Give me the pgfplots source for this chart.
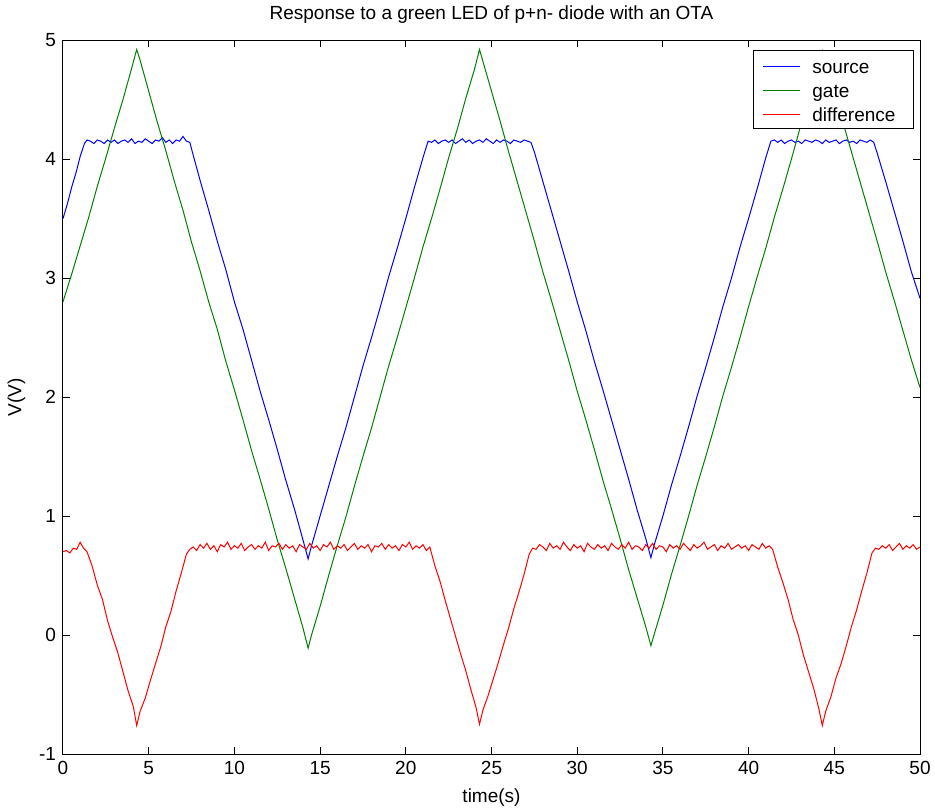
\documentclass[border=0pt]{standalone}
\usepackage{fontspec}
\setmainfont{Liberation Sans}
\usepackage{pgfplots}
\pgfplotsset{compat=1.18}

\definecolor{mgreen}{rgb}{0,0.5,0}

\begin{document}
\begin{tikzpicture}
\useasboundingbox (-31.5pt,-28pt) rectangle (436pt,377pt);
\begin{axis}[
    at={(0pt,0pt)}, anchor=south west,
    scale only axis,
    width=428.5pt, height=357pt,
    xmin=0, xmax=50, ymin=-1, ymax=5,
    xtick={0,5,...,50}, ytick={-1,0,...,5},
    tick align=inside, tick pos=both,
    major tick length=3.5pt,
    axis line style={line width=0.5pt},
    every tick/.style={black, line width=0.5pt},
    font=\fontsize{9.5}{11}\selectfont,
    /pgf/number format/assume math mode=true,
    title={Response to a green LED of p+n- diode with an OTA},
    title style={yshift=-1pt},
    xlabel={time(s)}, ylabel={V(V)},
    every axis plot/.append style={line width=0.5pt},
]
% source
\addplot[draw=blue] coordinates {
(0,3.50)(0.25,3.62)(0.5,3.76)(0.75,3.88)(1.0,4.02)(1.25,4.13)(1.4,4.16)
(1.6,4.15)(1.8,4.13)(2.0,4.16)(2.2,4.15)(2.4,4.13)(2.6,4.16)(2.8,4.14)(3.0,4.16)
(3.2,4.13)(3.4,4.15)(3.6,4.16)(3.8,4.14)(4.0,4.17)(4.2,4.13)(4.4,4.15)(4.6,4.14)
(4.8,4.17)(5.0,4.15)(5.2,4.13)(5.4,4.16)(5.6,4.15)(5.8,4.18)(6.0,4.14)(6.2,4.16)
(6.4,4.13)(6.6,4.16)(6.8,4.15)(7.0,4.19)(7.2,4.15)(7.4,4.14)
(7.6,4.03)(8,3.82)(8.5,3.57)(9,3.31)(9.5,3.07)(10,2.80)(10.5,2.57)(11,2.31)
(11.5,2.05)(12,1.81)(12.5,1.56)(13,1.30)(13.5,1.06)(14,0.80)(14.3,0.64)
(14.5,0.75)(15,1.00)(15.5,1.25)(16,1.50)(16.5,1.74)(17,2.00)(17.5,2.26)(18,2.50)
(18.5,2.75)(19,3.01)(19.5,3.25)(20,3.50)(20.5,3.76)(21,4.01)(21.3,4.15)
(21.5,4.14)(21.7,4.16)(21.9,4.13)(22.1,4.15)(22.3,4.16)(22.5,4.14)(22.7,4.16)
(22.9,4.13)(23.1,4.15)(23.3,4.17)(23.5,4.14)(23.7,4.16)(23.9,4.13)(24.1,4.15)
(24.3,4.16)(24.5,4.14)(24.7,4.17)(24.9,4.15)(25.1,4.13)(25.3,4.16)(25.5,4.14)
(25.7,4.16)(25.9,4.15)(26.1,4.13)(26.3,4.16)(26.5,4.15)(26.7,4.14)(26.9,4.16)
(27.1,4.15)(27.3,4.14)
(27.5,4.06)(28,3.81)(28.5,3.56)(29,3.31)(29.5,3.06)(30,2.80)(30.5,2.56)(31,2.30)
(31.5,2.06)(32,1.81)(32.5,1.56)(33,1.31)(33.5,1.05)(34,0.81)(34.3,0.65)
(34.5,0.76)(35,1.00)(35.5,1.26)(36,1.50)(36.5,1.75)(37,2.01)(37.5,2.25)(38,2.50)
(38.5,2.76)(39,3.00)(39.5,3.26)(40,3.50)(40.5,3.75)(41,4.01)(41.3,4.15)
(41.5,4.16)(41.7,4.14)(41.9,4.16)(42.1,4.13)(42.3,4.15)(42.5,4.16)(42.7,4.14)
(42.9,4.15)(43.1,4.13)(43.3,4.16)(43.5,4.15)(43.7,4.14)(43.9,4.16)(44.1,4.15)
(44.3,4.13)(44.5,4.16)(44.7,4.14)(44.9,4.15)(45.1,4.16)(45.3,4.13)(45.5,4.15)
(45.7,4.16)(45.9,4.14)(46.1,4.15)(46.3,4.13)(46.5,4.16)(46.7,4.15)(46.9,4.14)
(47.1,4.16)(47.3,4.14)
(47.5,4.05)(48,3.81)(48.5,3.56)(49,3.31)(49.5,3.05)(50,2.83)
};
% gate
\addplot[draw=mgreen] coordinates {
(0,2.80)(0.5,3.03)(1,3.27)(1.5,3.51)(2,3.77)(2.5,4.01)(3,4.26)(3.5,4.50)(4,4.76)(4.3,4.92)
(4.5,4.83)(5,4.57)(5.5,4.31)(6,4.07)(6.5,3.81)(7,3.57)(7.5,3.30)(8,3.06)(8.5,2.80)
(9,2.57)(9.5,2.30)(10,2.06)(10.5,1.81)(11,1.55)(11.5,1.31)(12,1.06)(12.5,0.80)
(13,0.56)(13.5,0.31)(14,0.06)(14.3,-0.11)
(14.5,0.00)(15,0.24)(15.5,0.50)(16,0.75)(16.5,0.99)(17,1.25)(17.5,1.50)(18,1.74)
(18.5,2.00)(19,2.26)(19.5,2.50)(20,2.75)(20.5,3.00)(21,3.26)(21.5,3.50)(22,3.75)
(22.5,4.01)(23,4.25)(23.5,4.51)(24,4.75)(24.3,4.92)
(24.5,4.82)(25,4.57)(25.5,4.32)(26,4.06)(26.5,3.81)(27,3.56)(27.5,3.31)(28,3.05)
(28.5,2.81)(29,2.56)(29.5,2.31)(30,2.05)(30.5,1.81)(31,1.56)(31.5,1.30)(32,1.06)
(32.5,0.81)(33,0.55)(33.5,0.31)(34,0.07)(34.3,-0.09)
(34.5,0.01)(35,0.25)(35.5,0.51)(36,0.75)(36.5,1.00)(37,1.26)(37.5,1.50)(38,1.75)
(38.5,2.01)(39,2.25)(39.5,2.50)(40,2.76)(40.5,3.01)(41,3.25)(41.5,3.51)(42,3.75)
(42.5,4.00)(43,4.26)(43.5,4.50)(44,4.75)(44.3,4.91)
(44.5,4.82)(45,4.56)(45.5,4.31)(46,4.06)(46.5,3.81)(47,3.56)(47.5,3.31)(48,3.05)
(48.5,2.81)(49,2.56)(49.5,2.31)(50,2.08)
};
% difference
\addplot[draw=red] coordinates {
(0,0.70)(0.2,0.71)(0.4,0.69)(0.6,0.73)(0.8,0.72)(1.0,0.78)(1.2,0.73)(1.4,0.70)
(1.7,0.58)(2.0,0.42)(2.3,0.30)(2.6,0.12)(2.9,-0.02)(3.2,-0.15)(3.5,-0.31)
(3.8,-0.47)(4.1,-0.60)(4.3,-0.76)
(4.5,-0.64)(4.8,-0.53)(5.1,-0.38)(5.4,-0.24)(5.7,-0.10)(6.0,0.07)(6.3,0.20)
(6.6,0.37)(6.9,0.52)(7.2,0.68)(7.4,0.72)
(7.6,0.74)(7.8,0.71)(8.0,0.76)(8.2,0.73)(8.4,0.77)(8.6,0.72)(8.8,0.75)(9.0,0.70)
(9.2,0.76)(9.4,0.74)(9.6,0.78)(9.8,0.72)(10.0,0.75)(10.2,0.73)(10.4,0.77)(10.6,0.71)
(10.8,0.74)(11.0,0.76)(11.2,0.72)(11.4,0.75)(11.6,0.73)(11.8,0.78)(12.0,0.71)(12.2,0.75)
(12.4,0.74)(12.6,0.77)(12.8,0.72)(13.0,0.76)(13.2,0.73)(13.4,0.75)(13.6,0.70)(13.8,0.76)
(14.0,0.74)(14.2,0.72)(14.4,0.77)(14.6,0.73)(14.8,0.75)(15.0,0.71)(15.2,0.76)(15.4,0.74)
(15.6,0.78)(15.8,0.72)(16.0,0.75)(16.2,0.73)(16.4,0.76)(16.6,0.71)(16.8,0.74)(17.0,0.77)
(17.2,0.72)(17.4,0.75)(17.6,0.73)(17.8,0.76)(18.0,0.70)(18.2,0.75)(18.4,0.74)(18.6,0.77)
(18.8,0.72)(19.0,0.76)(19.2,0.73)(19.4,0.75)(19.6,0.71)(19.8,0.76)(20.0,0.74)(20.2,0.78)
(20.4,0.72)(20.6,0.75)(20.8,0.73)(21.0,0.76)(21.2,0.71)(21.4,0.74)
(21.7,0.58)(22.0,0.45)(22.3,0.29)(22.6,0.14)(22.9,-0.01)(23.2,-0.16)(23.5,-0.30)
(23.8,-0.46)(24.1,-0.61)(24.3,-0.75)
(24.5,-0.63)(24.8,-0.51)(25.1,-0.37)(25.4,-0.23)(25.7,-0.08)(26.0,0.06)(26.3,0.22)
(26.6,0.36)(26.9,0.51)(27.2,0.68)(27.4,0.73)
(27.6,0.72)(27.8,0.76)(28.0,0.74)(28.2,0.71)(28.4,0.77)(28.6,0.73)(28.8,0.75)(29.0,0.72)
(29.2,0.78)(29.4,0.74)(29.6,0.71)(29.8,0.76)(30.0,0.73)(30.2,0.75)(30.4,0.70)(30.6,0.77)
(30.8,0.74)(31.0,0.72)(31.2,0.76)(31.4,0.73)(31.6,0.75)(31.8,0.71)(32.0,0.77)(32.2,0.74)
(32.4,0.72)(32.6,0.76)(32.8,0.73)(33.0,0.78)(33.2,0.72)(33.4,0.75)(33.6,0.74)(33.8,0.71)
(34.0,0.76)(34.2,0.73)(34.4,0.77)(34.6,0.72)(34.8,0.75)(35.0,0.74)(35.2,0.70)(35.4,0.76)
(35.6,0.73)(35.8,0.75)(36.0,0.72)(36.2,0.77)(36.4,0.74)(36.6,0.71)(36.8,0.76)(37.0,0.73)
(37.2,0.75)(37.4,0.78)(37.6,0.72)(37.8,0.74)(38.0,0.76)(38.2,0.71)(38.4,0.75)(38.6,0.73)
(38.8,0.77)(39.0,0.72)(39.2,0.74)(39.4,0.76)(39.6,0.73)(39.8,0.75)(40.0,0.71)(40.2,0.76)
(40.4,0.74)(40.6,0.72)(40.8,0.77)(41.0,0.73)(41.2,0.75)(41.4,0.72)
(41.7,0.57)(42.0,0.44)(42.3,0.30)(42.6,0.13)(42.9,0.00)(43.2,-0.17)(43.5,-0.31)
(43.8,-0.45)(44.1,-0.62)(44.3,-0.76)
(44.5,-0.64)(44.8,-0.52)(45.1,-0.36)(45.4,-0.24)(45.7,-0.09)(46.0,0.07)(46.3,0.21)
(46.6,0.37)(46.9,0.52)(47.2,0.69)(47.4,0.73)
(47.6,0.72)(47.8,0.75)(48.0,0.73)(48.2,0.76)(48.4,0.71)(48.6,0.74)(48.8,0.77)(49.0,0.72)
(49.2,0.75)(49.4,0.73)(49.6,0.76)(49.8,0.72)(50.0,0.74)
};
\end{axis}
% legend box, drawn by hand (the matrix legend mixed up its colours)
\draw[line width=0.5pt, fill=white] (345pt,312.5pt) rectangle (425pt,351.5pt);
\draw[blue, line width=0.5pt] (350pt,343.5pt) -- (368.5pt,343.5pt);
\draw[mgreen, line width=0.5pt] (350pt,331.5pt) -- (368.5pt,331.5pt);
\draw[red, line width=0.5pt] (350pt,319.5pt) -- (368.5pt,319.5pt);
\begin{scope}[every node/.style={anchor=base west, inner sep=0pt,
    font=\fontsize{9.5}{11}\selectfont}]
\node at (374.5pt,340.3pt) {source};
\node at (374.5pt,328.3pt) {gate};
\node at (374.5pt,316.3pt) {difference};
\end{scope}
\end{tikzpicture}
\end{document}
